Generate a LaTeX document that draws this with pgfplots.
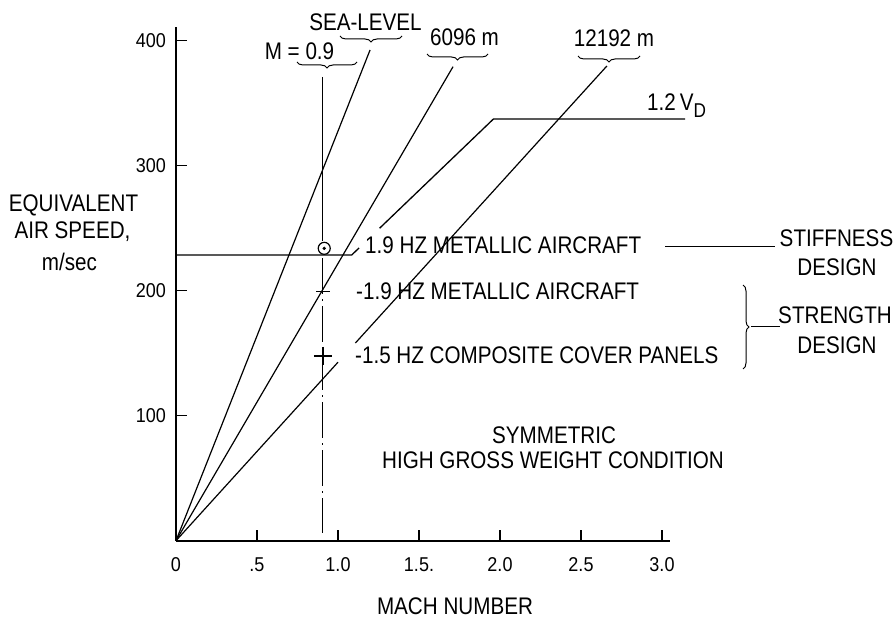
\documentclass[border=0pt]{standalone}
\usepackage{pgfplots}
\pgfplotsset{compat=1.18}
\usepackage{fontspec}
\setmainfont{Liberation Sans}[FakeStretch=0.86]
\newfontfamily\tickfont{Liberation Sans}[FakeStretch=0.9]
\usetikzlibrary{decorations.pathreplacing}
\begin{document}
\begin{tikzpicture}[x=1pt,y=1pt,font=\fontsize{24}{28}\selectfont]
\path[use as bounding box] (0,0) rectangle (895,622);
\begin{axis}[
  at={(176pt,81.3pt)}, anchor=south west,
  scale only axis, width=494.1pt, height=513.75pt,
  xmin=0, xmax=3.05, ymin=0, ymax=411,
  axis lines=left, axis line style={-, line width=1.6pt},
  tick align=inside, major tick length=11pt,
  tick style={line width=1.4pt, black},
  xtick={0,0.5,1,1.5,2,2.5,3},
  xticklabels={0,.5,1.0,1.5.,2.0,2.5,3.0},
  ytick={100,200,300,400},
  xticklabel style={anchor=center, yshift=-24pt, inner sep=0pt},
  yticklabel style={anchor=east, inner sep=0pt, xshift=-10pt},
  ticklabel style={font=\tickfont\fontsize{20}{22}\selectfont},
  /pgf/number format/assume math mode=true,
  clip=false,
]
% constant-altitude lines
\addplot[black, line width=1.2pt] coordinates {(0,0) (1.198,392.6)};
\addplot[black, line width=1.2pt] coordinates {(0,0) (1.710,379.2)};
\addplot[black, line width=1.2pt] coordinates {(0,0) (1.0,142.8)};
\addplot[black, line width=1.2pt] coordinates {(1.107,158.1) (2.660,379.8)};
% stiffness line and 1.2 VD envelope
\addplot[black, line width=1.3pt] coordinates {(0,228.6) (1.085,228.6) (1.130,234.2)};
\addplot[black, line width=1.3pt] coordinates {(1.257,250) (1.959,337.3) (3.142,337.3)};
% M = 0.9 line
\addplot[black, line width=1.1pt] coordinates {(0.907,371) (0.907,240)};
\addplot[black, line width=1.1pt, dash pattern=on 36pt off 5pt on 2pt off 5pt] coordinates {(0.907,226) (0.907,6)};
% markers
\addplot[only marks, mark=o, mark size=6pt, mark options={line width=1.2pt, fill=white, black}] coordinates {(0.915,233.9)};
\addplot[only marks, mark=*, mark size=1.5pt, black] coordinates {(0.915,233.9)};
\addplot[only marks, mark=-, mark size=7pt, mark options={line width=1.4pt, black}] coordinates {(0.907,199.3)};
\addplot[only marks, mark=+, mark size=9pt, mark options={line width=1.4pt, black}] coordinates {(0.907,147.8)};
\end{axis}
% top labels
\node[inner sep=0] at (365.5,600) {SEA-LEVEL};
\draw[line width=1pt, decorate, decoration={brace, mirror, amplitude=6pt}] (340,586) -- (402,586);
\node[inner sep=0] at (299.5,571) {M = 0.9};
\draw[line width=1pt, decorate, decoration={brace, mirror, amplitude=6pt}] (297,560) -- (357,560);
\node[inner sep=0] at (464.5,585) {6096 m};
\draw[line width=1pt, decorate, decoration={brace, mirror, amplitude=6pt}] (427,568) -- (488,568);
\node[inner sep=0] at (614,584) {12192 m};
\draw[line width=1pt, decorate, decoration={brace, mirror, amplitude=6pt}] (578,566) -- (640,566);
\node[anchor=west, inner sep=0] at (647,516) {1.2\,V\raisebox{-7pt}{\fontsize{20}{20}\selectfont D}};
% frequency labels
\node[anchor=west, inner sep=0] at (365,377) {1.9 HZ METALLIC AIRCRAFT};
\node[anchor=west, inner sep=0] at (356,331) {-1.9 HZ METALLIC AIRCRAFT};
\node[anchor=west, inner sep=0] at (355,267) {-1.5 HZ COMPOSITE COVER PANELS};
% design labels
\draw[line width=1pt] (665,375) -- (775,375);
\node[inner sep=0] at (836.5,384) {STIFFNESS};
\node[inner sep=0] at (837,355) {DESIGN};
\draw[line width=1pt, decorate, decoration={brace, amplitude=6pt}] (743,337) -- (743,253);
\draw[line width=1pt] (751,295) -- (780,295);
\node[inner sep=0] at (835,307) {STRENGTH};
\node[inner sep=0] at (837,277) {DESIGN};
% condition
\node[inner sep=0] at (554,187) {SYMMETRIC};
\node[inner sep=0] at (553,162) {HIGH GROSS WEIGHT CONDITION};
% axis labels
\node[anchor=base, inner sep=0] at (73.5,410) {EQUIVALENT};
\node[anchor=base, inner sep=0] at (72.5,383) {AIR SPEED,};
\node[anchor=base, inner sep=0] at (69.5,351) {m/sec};
\node[inner sep=0] at (455,16) {MACH NUMBER};
\end{tikzpicture}
\end{document}
